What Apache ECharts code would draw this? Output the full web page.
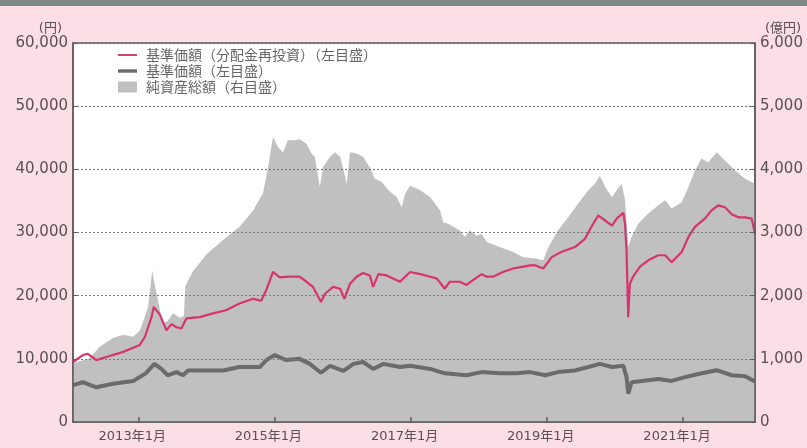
<!DOCTYPE html>
<html><head><meta charset="utf-8">
<script src="https://cdn.jsdelivr.net/npm/echarts@6/dist/echarts.min.js"></script>
<style>html,body{margin:0;padding:0;background:#fcdee6}#c{width:807px;height:448px}</style>
</head><body><div id="c"></div>
<script>
// 基準価額（分配金再投資） 円
const navReinvDates = ['2012-01-17','2012-03-10','2012-04-06','2012-05-21','2012-07-14','2012-10-12','2013-01-10','2013-02-06','2013-03-13','2013-03-25','2013-04-27','2013-06-01','2013-06-28','2013-07-25','2013-08-20','2013-09-16','2013-11-27','2014-02-06','2014-04-17','2014-06-28','2014-09-09','2014-10-22','2014-11-19','2014-12-25','2015-01-30','2015-03-23','2015-05-16','2015-06-23','2015-07-27','2015-09-08','2015-09-30','2015-11-12','2015-12-20','2016-01-12','2016-02-11','2016-03-17','2016-04-21','2016-05-27','2016-06-14','2016-07-12','2016-08-25','2016-11-05','2016-12-29','2017-02-22','2017-04-16','2017-05-22','2017-07-03','2017-07-30','2017-09-22','2017-10-28','2017-12-03','2018-01-17','2018-02-13','2018-03-19','2018-05-11','2018-07-04','2018-08-28','2018-10-03','2018-10-30','2018-12-13','2019-01-28','2019-03-20','2019-06-01','2019-07-25','2019-08-29','2019-10-04','2019-11-10','2019-12-17','2020-01-11','2020-02-16','2020-02-25','2020-03-04','2020-03-13','2020-03-22','2020-04-08','2020-05-15','2020-06-29','2020-08-21','2020-09-27','2020-11-01','2020-12-25','2021-01-30','2021-03-06','2021-04-28','2021-06-03','2021-07-09','2021-08-14','2021-09-19','2021-10-25','2021-11-30','2022-01-04','2022-01-22'];
const navReinvValues = [9500,10600,10800,9800,10300,11100,12200,13500,16600,18200,17000,14500,15500,15000,14800,16400,16600,17200,17700,18750,19500,19200,20900,23750,22900,23000,23000,22200,21400,19000,20300,21400,21100,19500,21900,23000,23600,23200,21400,23400,23200,22200,23750,23400,23000,22700,21100,22200,22200,21700,22500,23400,23000,23000,23750,24300,24600,24800,24800,24300,26100,26900,27700,29000,30900,32700,31900,31100,32200,33100,31300,27200,16600,21900,23000,24600,25600,26400,26400,25300,26900,29300,30900,32200,33500,34300,34000,32900,32400,32400,32200,29800];

// 基準価額 円
const navDates = ['2012-01-17','2012-03-10','2012-05-21','2012-08-19','2012-12-05','2013-02-10','2013-03-29','2013-05-05','2013-06-08','2013-07-25','2013-08-29','2013-09-25','2014-01-01','2014-04-01','2014-06-28','2014-10-15','2014-11-19','2015-01-03','2015-03-05','2015-05-16','2015-07-10','2015-09-08','2015-10-27','2016-01-06','2016-03-01','2016-04-21','2016-06-14','2016-08-07','2016-11-05','2016-12-29','2017-04-16','2017-07-03','2017-10-28','2018-01-17','2018-04-24','2018-07-22','2018-10-03','2018-12-24','2019-03-02','2019-06-01','2019-08-12','2019-10-13','2019-12-17','2020-02-16','2020-03-04','2020-03-13','2020-03-31','2020-05-25','2020-08-21','2020-11-01','2021-01-12','2021-03-24','2021-06-30','2021-09-19','2021-11-30','2022-01-22'];
const navValues = [5850,6300,5500,6050,6500,7700,9200,8400,7400,7900,7400,8150,8150,8150,8700,8700,9800,10600,9800,10000,9200,7800,8900,8100,9200,9500,8400,9200,8700,8900,8400,7700,7400,7900,7700,7700,7900,7400,7900,8150,8700,9200,8700,8900,7100,4500,6300,6500,6800,6500,7100,7600,8200,7400,7250,6400];

// 純資産総額 億円
const assetDates = ['2012-01-17','2012-04-15','2012-06-08','2012-08-19','2012-10-12','2012-12-05','2013-01-10','2013-02-23','2013-03-17','2013-03-29','2013-04-20','2013-05-11','2013-06-08','2013-07-06','2013-08-11','2013-09-03','2013-09-10','2013-10-20','2014-01-01','2014-04-01','2014-06-28','2014-09-09','2014-11-01','2014-11-28','2014-12-25','2015-01-21','2015-02-17','2015-03-14','2015-04-28','2015-05-16','2015-06-23','2015-07-19','2015-08-06','2015-09-02','2015-09-20','2015-10-27','2015-11-22','2015-12-20','2016-01-06','2016-01-24','2016-02-11','2016-03-17','2016-04-21','2016-05-27','2016-06-23','2016-07-30','2016-09-04','2016-10-19','2016-11-14','2016-12-02','2016-12-29','2017-02-22','2017-04-16','2017-06-08','2017-06-25','2017-07-21','2017-08-17','2017-09-22','2017-10-19','2017-11-15','2017-12-21','2018-01-17','2018-02-13','2018-04-24','2018-07-04','2018-08-28','2018-10-30','2018-12-13','2019-01-10','2019-03-02','2019-04-26','2019-06-19','2019-08-12','2019-09-16','2019-10-13','2019-11-10','2019-12-17','2020-01-11','2020-02-07','2020-02-25','2020-03-13','2020-03-31','2020-05-06','2020-06-29','2020-08-21','2020-09-27','2020-11-01','2020-12-25','2021-01-30','2021-03-06','2021-04-10','2021-05-16','2021-06-30','2021-08-14','2021-10-07','2021-11-30','2022-01-22'];
const assetValues = [930,1010,1190,1330,1380,1350,1450,1820,2400,2200,1880,1560,1600,1720,1650,1680,2150,2380,2650,2880,3090,3350,3620,4030,4510,4350,4270,4460,4460,4480,4400,4250,4200,3720,4040,4200,4270,4200,4000,3770,4270,4250,4200,4030,3850,3800,3670,3560,3400,3610,3740,3670,3560,3350,3160,3140,3090,3030,2930,3030,2950,2980,2850,2770,2690,2610,2590,2560,2770,3030,3240,3460,3670,3770,3900,3720,3560,3670,3770,3510,2770,2930,3140,3300,3430,3510,3380,3480,3720,3980,4170,4110,4270,4140,3980,3850,3770];

const xTickDates = ['2013-01-01','2015-01-01','2017-01-01','2019-01-01','2021-01-01'];
const xRange = ['2012-01-17','2022-01-22'];
const leftAxis = {min:0, max:60000, step:10000};
const rightAxis = {min:0, max:6000, step:1000};
const seriesNames = ['基準価額（分配金再投資）（左目盛）','基準価額（左目盛）','純資産総額（右目盛）'];

function ts(s){const p=s.split('-').map(Number);return Date.UTC(p[0],p[1]-1,p[2]);}
function pairs(d,v){return d.map((x,i)=>[ts(x),v[i]]);}
function comma(v){return String(v).replace(/\B(?=(\d{3})+(?!\d))/g, ',');}

const labelColor = '#5a4f52';
const font = '"DejaVu Sans","Noto Sans CJK JP",sans-serif';
const chart = echarts.init(document.getElementById('c'));
chart.setOption({
  backgroundColor:'#fcdee6',
  animation:false,
  graphic:[{type:'rect',shape:{x:0,y:0,width:807,height:6},style:{fill:'#7d8783'}}],
  grid:{left:73,right:52,top:43,bottom:26,show:true,backgroundColor:'#ffffff',borderColor:'#5c5c5c',borderWidth:1.5},
  legend:{
    orient:'vertical',left:113,top:43,itemWidth:19,itemHeight:14,itemGap:2,symbolKeepAspect:true,
    textStyle:{fontFamily:'"Noto Sans CJK JP",sans-serif',fontSize:14,color:'#666666',padding:[0,0,0,4]},
    data:[
      {name:seriesNames[0],icon:'path://M0,0H20V2H0Z'},
      {name:seriesNames[1],icon:'path://M0,0H20V3.6H0Z'},
      {name:seriesNames[2],icon:'path://M0,0H19V11H0Z'}
    ]
  },
  xAxis:{
    type:'value',min:ts(xRange[0]),max:ts(xRange[1]),z:10,
    axisLine:{show:true,lineStyle:{color:'#5c5c5c',width:1.5}},
    axisTick:{show:true,inside:true,length:5,customValues:xTickDates.map(ts),lineStyle:{color:'#5c5c5c',width:1.5}},
    axisLabel:{customValues:xTickDates.map(ts),margin:8,color:labelColor,fontSize:13,fontFamily:font,padding:[0,12,0,0],
      formatter:function(v){const d=new Date(v);return d.getUTCFullYear()+'年'+(d.getUTCMonth()+1)+'月';}},
    splitLine:{show:false}
  },
  yAxis:[
    {type:'value',min:leftAxis.min,max:leftAxis.max,interval:leftAxis.step,position:'left',z:10,
     name:'(円)',nameLocation:'end',nameGap:8,
     nameTextStyle:{align:'right',padding:[0,11,0,0],color:labelColor,fontSize:13,fontFamily:font},
     axisLine:{show:true,lineStyle:{color:'#5c5c5c',width:1.5}},
     axisTick:{show:true,inside:true,length:4,lineStyle:{color:'#5c5c5c'}},
     axisLabel:{margin:5,color:labelColor,fontSize:15,fontFamily:font,formatter:comma},
     splitLine:{show:true,lineStyle:{color:'#7a7a7a',type:[2,2],width:1.2}}},
    {type:'value',min:rightAxis.min,max:rightAxis.max,interval:rightAxis.step,position:'right',z:10,
     name:'(億円)',nameLocation:'end',nameGap:8,
     nameTextStyle:{align:'left',padding:[0,0,0,10],color:labelColor,fontSize:13,fontFamily:font},
     axisLine:{show:true,lineStyle:{color:'#5c5c5c',width:1.5}},
     axisTick:{show:true,inside:true,length:4,lineStyle:{color:'#5c5c5c'}},
     axisLabel:{margin:5,color:labelColor,fontSize:15,fontFamily:font,formatter:comma},
     splitLine:{show:false}}
  ],
  series:[
    {name:seriesNames[2],type:'line',yAxisIndex:1,data:pairs(assetDates,assetValues),symbol:'none',
     color:'#c0c0c0',lineStyle:{width:0},areaStyle:{color:'#c0c0c0',opacity:1},z:1},
    {name:seriesNames[1],type:'line',yAxisIndex:0,data:pairs(navDates,navValues),symbol:'none',
     color:'#6b6b6b',lineStyle:{width:4,color:'#6b6b6b'},z:3},
    {name:seriesNames[0],type:'line',yAxisIndex:0,data:pairs(navReinvDates,navReinvValues),symbol:'none',
     color:'#d6336f',lineStyle:{width:2.2,color:'#d6336f'},z:4}
  ]
});
</script></body></html>
